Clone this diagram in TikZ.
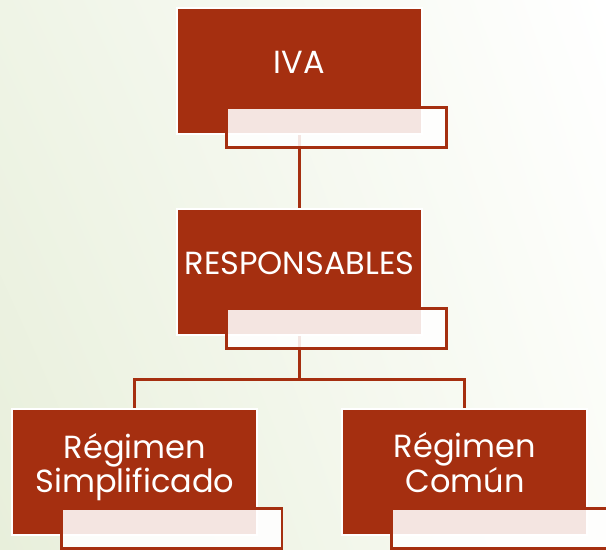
\documentclass[tikz,border=0pt]{standalone}
\usepackage{fontspec}
\setmainfont{Poppins}
\usetikzlibrary{positioning,backgrounds,shadings}

\definecolor{rojo}{RGB}{165,47,16}
\definecolor{fondoA}{RGB}{232,239,219}
\definecolor{fondoB}{RGB}{239,244,230}
\definecolor{fondoC}{RGB}{250,252,246}
\newcommand{\lift}[1]{\raisebox{3.2pt}[\height][\depth]{\begin{tabular}{@{}c@{}}#1\end{tabular}}}

\begin{document}
\begin{tikzpicture}[block/.style={rectangle,fill=rojo,draw=white,line width=1.5pt,
 minimum width=183.75pt,minimum height=94.5pt,text=white,
 font=\fontsize{24}{24.75}\selectfont},
tag/.style={rectangle,draw=rojo,line width=2pt,fill=white,fill opacity=0.88,
 minimum width=165.25pt,minimum height=30.25pt,inner sep=0pt},
link/.style={draw=rojo,line width=2.25pt}]
 \useasboundingbox (0,0) rectangle (454.5pt,-411.75pt);
 \begin{scope}[on background layer]
 \shade[lower left=fondoA,upper left=fondoB,upper right=white,lower right=fondoC]
 (0,0) rectangle (454.5pt,-411.75pt);
 \end{scope}

 \node[block] (iva) at (224.625pt,-53.25pt) {\lift{IVA}};
 \node[block,below=54.75pt of iva] (resp) {\lift{RESPONSABLES}};
 \node[block,below=54pt of resp,xshift=-123.4pt] (rs) {\lift{Régimen\\Simplificado}};
 \node[block,below=54pt of resp,xshift=124.1pt] (rc) {\lift{Régimen\\Común}};

 \foreach \N in {iva,resp,rs,rc}
 {\node[tag,anchor=north west] (\N t) at ([shift={(36.75pt,21.75pt)}]\N.south west) {};}

 \coordinate[below=32.25pt of resp.south] (fork);
 \begin{scope}[on background layer]
 \draw[link] (iva) -- (resp);
 \draw[link] (resp) -- (fork) -| (rs);
 \draw[link] (fork) -| (rc);
 \end{scope}
\end{tikzpicture}
\end{document}
